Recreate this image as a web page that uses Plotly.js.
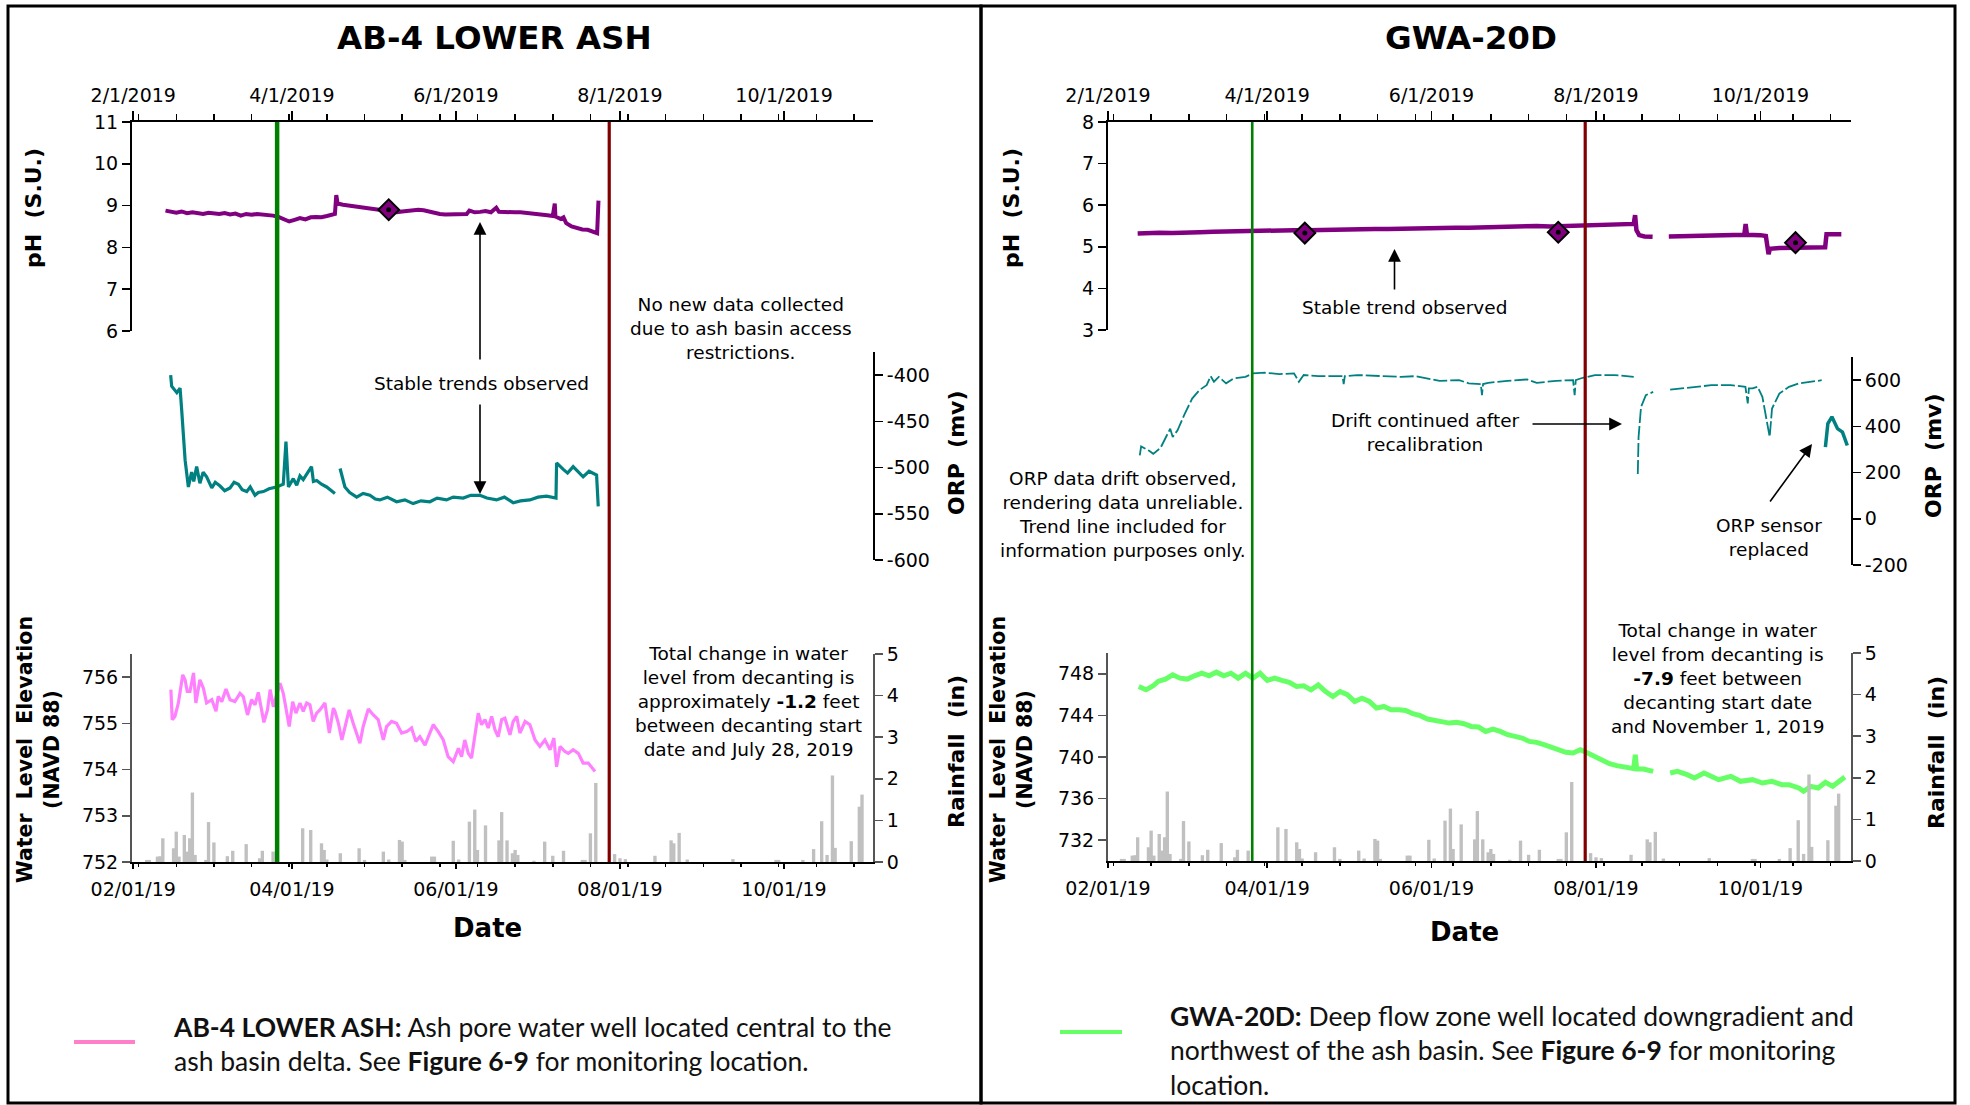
<!DOCTYPE html>
<html><head><meta charset="utf-8">
<script src="https://cdn.plot.ly/plotly-3.0.1.min.js"></script>
<style>html,body{margin:0;padding:0;background:#fff}</style>
</head><body><div id="chart" style="width:1970px;height:1105px"></div>
<script>
// ---------------- DATA ----------------
const panelTitles = ['AB-4 LOWER ASH', 'GWA-20D'];
const decantStart = '2019-03-26 12:00';
const decantEnd = '2019-07-28';

// AB-4 LOWER ASH pH (S.U.)
const ab4PhDates = ['2019-02-13','2019-02-15','2019-02-17','2019-02-19','2019-02-21','2019-02-23','2019-02-25','2019-02-27','2019-03-01','2019-03-03','2019-03-05','2019-03-07','2019-03-09','2019-03-11','2019-03-13','2019-03-15','2019-03-17','2019-03-19','2019-03-21','2019-03-23','2019-03-25','2019-03-27','2019-03-29','2019-03-31','2019-04-02','2019-04-04','2019-04-06','2019-04-08','2019-04-10','2019-04-12','2019-04-14','2019-04-16','2019-04-17','2019-04-17 12:00','2019-04-18','2019-04-20','2019-04-22','2019-04-24','2019-04-26','2019-04-28','2019-04-30','2019-05-02','2019-05-04','2019-05-06','2019-05-08','2019-05-10','2019-05-12','2019-05-14','2019-05-16','2019-05-18','2019-05-20','2019-05-22','2019-05-24','2019-05-26','2019-05-28','2019-05-30','2019-06-01','2019-06-03','2019-06-05','2019-06-06','2019-06-08','2019-06-10','2019-06-12','2019-06-14','2019-06-16','2019-06-17','2019-06-19','2019-06-21','2019-06-23','2019-06-25','2019-06-27','2019-06-29','2019-07-01','2019-07-03','2019-07-05','2019-07-07','2019-07-07 18:00','2019-07-08','2019-07-10','2019-07-11','2019-07-12','2019-07-14','2019-07-16','2019-07-18','2019-07-20','2019-07-22','2019-07-23','2019-07-23 12:00','2019-07-24'];
const ab4PhVals = [8.88,8.85,8.83,8.86,8.82,8.84,8.82,8.80,8.83,8.81,8.80,8.82,8.79,8.81,8.76,8.80,8.78,8.80,8.79,8.78,8.76,8.73,8.68,8.62,8.66,8.70,8.67,8.72,8.73,8.72,8.75,8.78,8.80,9.25,9.05,9.02,9.00,8.99,8.97,8.96,8.94,8.91,8.88,8.87,8.85,8.84,8.86,8.88,8.89,8.90,8.89,8.86,8.82,8.80,8.79,8.79,8.80,8.79,8.80,8.88,8.84,8.85,8.87,8.84,8.95,8.85,8.84,8.85,8.84,8.84,8.83,8.82,8.80,8.78,8.77,8.75,9.05,8.74,8.68,8.72,8.58,8.50,8.46,8.43,8.42,8.37,8.35,8.34,9.12];
const ab4SampleDates = ['2019-05-07'];
const ab4SampleVals = [8.90];

// AB-4 LOWER ASH ORP (mv)
const ab4OrpDates = ['2019-02-14 22:00','2019-02-15 07:00','2019-02-17 05:00','2019-02-18 10:00','2019-02-19','2019-02-20 07:00','2019-02-21 12:00','2019-02-22 17:00','2019-02-23 12:00','2019-02-24 14:00','2019-02-25 19:00','2019-02-27','2019-02-28 07:00','2019-03-02 05:00','2019-03-03 12:00','2019-03-05 07:00','2019-03-07','2019-03-09','2019-03-10 12:00','2019-03-12 02:00','2019-03-13 12:00','2019-03-15 05:00','2019-03-16 12:00','2019-03-18 07:00','2019-03-19 12:00','2019-03-21 10:00','2019-03-23 12:00','2019-03-26 07:00','2019-03-28 19:00','2019-03-29 19:00','2019-03-30 17:00','2019-04-01 12:00','2019-04-02 19:00','2019-04-04','2019-04-05 05:00','2019-04-08 07:00','2019-04-09','2019-04-10 05:00','2019-04-12','2019-04-13 22:00','2019-04-17','2019-04-18','2019-04-18 22:00','2019-04-20 17:00','2019-04-22 12:00','2019-04-25 02:00','2019-04-27 12:00','2019-04-30','2019-05-02','2019-05-03 17:00','2019-05-06 12:00','2019-05-09 22:00','2019-05-13','2019-05-16 02:00','2019-05-19','2019-05-22 07:00','2019-05-25','2019-05-28 12:00','2019-05-31','2019-06-03 17:00','2019-06-06 12:00','2019-06-09 22:00','2019-06-12 12:00','2019-06-16 02:00','2019-06-19','2019-06-22 07:00','2019-06-25','2019-06-28 12:00','2019-07-01 12:00','2019-07-04 17:00','2019-07-08 05:00','2019-07-08 10:00','2019-07-10 22:00','2019-07-12 12:00','2019-07-14 14:00','2019-07-16 12:00','2019-07-18 07:00','2019-07-20 12:00','2019-07-23 07:00','2019-07-23 22:00'];
const ab4OrpVals = [-400,-412,-419,-414,-437,-492,-521,-505,-515,-499,-517,-505,-510,-522,-516,-520,-525,-522,-516,-518,-524,-526,-521,-530,-527,-526,-523,-521,-518,-472,-521,-512,-519,-509,-513,-499,-515,-514,-518,-521,-528,null,-501,-521,-527,-532,-528,-530,-534,-535,-532,-537,-535,-539,-536,-537,-533,-535,-532,-533,-530,-530,-533,-535,-532,-538,-536,-535,-532,-531,-533,-495,-502,-506,-499,-505,-510,-504,-508,-542];

// AB-4 LOWER ASH water level elevation (ft NAVD 88)
const ab4WlDates = ['2019-02-15','2019-02-15 12:00','2019-02-16 12:00','2019-02-17 19:00','2019-02-19 10:00','2019-02-20 07:00','2019-02-21 02:00','2019-02-22 02:00','2019-02-23 10:00','2019-02-24 07:00','2019-02-25 19:00','2019-02-27 02:00','2019-02-28 07:00','2019-03-02 05:00','2019-03-03 19:00','2019-03-04 14:00','2019-03-05 22:00','2019-03-07 12:00','2019-03-09','2019-03-10 19:00','2019-03-12 17:00','2019-03-13 22:00','2019-03-15 12:00','2019-03-17','2019-03-18 07:00','2019-03-19 12:00','2019-03-20 12:00','2019-03-21 14:00','2019-03-22 22:00','2019-03-23 22:00','2019-03-25 02:00','2019-03-26 07:00','2019-03-27 14:00','2019-03-28 19:00','2019-03-29 19:00','2019-03-31','2019-04-01 07:00','2019-04-02 12:00','2019-04-04','2019-04-05 05:00','2019-04-06 12:00','2019-04-07 17:00','2019-04-08 22:00','2019-04-10 05:00','2019-04-11 10:00','2019-04-13 07:00','2019-04-14 22:00','2019-04-16 10:00','2019-04-17','2019-04-18 07:00','2019-04-19 14:00','2019-04-20 17:00','2019-04-22 07:00','2019-04-23 19:00','2019-04-26 07:00','2019-04-27 12:00','2019-04-29 10:00','2019-05-01 07:00','2019-05-03 02:00','2019-05-05','2019-05-06 05:00','2019-05-08 02:00','2019-05-09 22:00','2019-05-11 19:00','2019-05-13 17:00','2019-05-15 12:00','2019-05-17 02:00','2019-05-18 14:00','2019-05-20 12:00','2019-05-22 07:00','2019-05-23 14:00','2019-05-25 10:00','2019-05-27 07:00','2019-05-29 02:00','2019-05-31','2019-06-01 22:00','2019-06-03 02:00','2019-06-04 07:00','2019-06-05 14:00','2019-06-06 19:00','2019-06-08 02:00','2019-06-09 07:00','2019-06-10 12:00','2019-06-11 19:00','2019-06-13','2019-06-14 07:00','2019-06-15 12:00','2019-06-16 17:00','2019-06-18','2019-06-19 05:00','2019-06-21 02:00','2019-06-22 07:00','2019-06-23 14:00','2019-06-24 19:00','2019-06-26 17:00','2019-06-28 12:00','2019-06-30 10:00','2019-07-02 05:00','2019-07-04 02:00','2019-07-06','2019-07-07 10:00','2019-07-08 10:00','2019-07-09 17:00','2019-07-11 12:00','2019-07-12 19:00','2019-07-14 14:00','2019-07-16 12:00','2019-07-18 07:00','2019-07-20 05:00','2019-07-21 10:00','2019-07-22 17:00'];
const ab4WlVals = [755.73,755.08,755.15,755.44,756.05,755.94,755.69,755.69,756.09,755.44,755.94,755.76,755.44,755.51,755.26,755.58,755.47,755.74,755.51,755.47,755.65,755.58,755.18,755.51,755.40,755.67,755.36,755.02,755.29,755.73,755.36,755.58,755.87,755.65,755.33,754.93,755.47,755.22,755.44,755.26,755.44,755.40,755.04,755.22,755.29,755.44,754.79,755.33,755.26,755.00,754.64,754.93,755.29,755.00,754.57,754.93,755.31,755.18,755.08,754.64,754.93,755.04,755.00,754.79,754.82,754.90,754.61,754.71,754.53,754.79,754.97,754.82,754.64,754.28,754.17,754.46,754.28,754.64,754.35,754.25,754.71,755.22,754.97,755.08,754.90,755.15,754.86,754.71,755.08,755.11,754.75,755.04,755.15,754.79,755.04,754.97,754.64,754.50,754.64,754.43,754.68,754.06,754.50,754.39,754.35,754.43,754.35,754.14,754.14,754.06,753.96];

// Daily rainfall (in)
const rainDates = ['2019-02-06','2019-02-07','2019-02-10','2019-02-11','2019-02-12','2019-02-16','2019-02-17','2019-02-18','2019-02-20','2019-02-21','2019-02-22','2019-02-23','2019-02-24','2019-02-28','2019-03-01','2019-03-03','2019-03-08','2019-03-10','2019-03-15','2019-03-20','2019-03-21','2019-03-25','2019-04-05','2019-04-08','2019-04-12','2019-04-13','2019-04-14','2019-04-19','2019-04-26','2019-04-28','2019-05-05','2019-05-07','2019-05-11','2019-05-12','2019-05-13','2019-05-23','2019-05-24','2019-05-31','2019-06-02','2019-06-06','2019-06-08','2019-06-09','2019-06-12','2019-06-17','2019-06-18','2019-06-20','2019-06-22','2019-06-23','2019-06-24','2019-06-30','2019-07-04','2019-07-07','2019-07-11','2019-07-18','2019-07-19','2019-07-21','2019-07-23','2019-07-30','2019-08-01','2019-08-03','2019-08-14','2019-08-20','2019-08-21','2019-08-23','2019-08-26','2019-09-12','2019-09-28','2019-09-29','2019-10-08','2019-10-12','2019-10-15','2019-10-17','2019-10-19','2019-10-20','2019-10-26','2019-10-29','2019-10-30'];
const rainVals = [0.05,0.05,0.13,0.14,0.57,0.33,0.73,0.13,0.65,0.25,0.57,1.67,0.17,0.05,0.96,0.47,0.14,0.27,0.43,0.09,0.27,0.25,0.81,0.77,0.45,0.29,0.06,0.21,0.33,0.05,0.25,0.06,0.53,0.49,0.05,0.13,0.13,0.51,0.06,0.97,1.26,0.29,0.88,0.52,1.20,0.52,0.21,0.29,0.17,0.03,0.49,0.15,0.27,0.05,0.05,0.69,1.90,0.19,0.09,0.07,0.15,0.52,0.45,0.70,0.06,0.07,0.05,0.05,0.05,0.31,0.98,0.17,2.08,0.34,0.50,1.33,1.62];

// GWA-20D pH (S.U.)
const gwaPhDates = ['2019-02-12','2019-02-15','2019-02-20','2019-02-25','2019-03-02','2019-03-07','2019-03-12','2019-03-17','2019-03-22','2019-03-27','2019-04-01','2019-04-06','2019-04-11','2019-04-16','2019-04-21','2019-04-26','2019-05-01','2019-05-06','2019-05-11','2019-05-16','2019-05-21','2019-05-26','2019-05-31','2019-06-05','2019-06-10','2019-06-15','2019-06-20','2019-06-25','2019-06-30','2019-07-05','2019-07-10','2019-07-15','2019-07-20','2019-07-25','2019-07-30','2019-08-04','2019-08-09','2019-08-14','2019-08-15','2019-08-15 12:00','2019-08-16','2019-08-17','2019-08-19','2019-08-22','2019-08-25','2019-08-28','2019-09-02','2019-09-07','2019-09-12','2019-09-17','2019-09-22','2019-09-25','2019-09-25 12:00','2019-09-26','2019-10-01','2019-10-03','2019-10-04','2019-10-04 12:00','2019-10-08','2019-10-13','2019-10-18','2019-10-23','2019-10-25','2019-10-25 12:00','2019-10-28','2019-10-31'];
const gwaPhVals = [5.32,5.33,5.34,5.33,5.35,5.35,5.36,5.37,5.38,5.38,5.39,5.39,5.40,5.40,5.41,5.41,5.42,5.42,5.43,5.43,5.44,5.44,5.45,5.45,5.46,5.46,5.47,5.47,5.48,5.48,5.50,5.49,5.50,5.51,5.51,5.52,5.52,5.53,5.55,5.76,5.40,5.28,5.25,5.24,null,5.25,5.26,5.26,5.27,5.28,5.28,5.29,5.55,5.29,5.28,5.26,4.82,4.95,4.97,4.97,4.98,4.98,4.99,5.30,5.31,5.30];
const gwaSampleDates = ['2019-04-15','2019-07-18','2019-10-14'];
const gwaSampleVals = [5.33,5.35,5.10];

// GWA-20D ORP (mv), original sensor
const gwaOrpDates = ['2019-02-12 19:00','2019-02-13 07:00','2019-02-16','2019-02-17 19:00','2019-02-20 12:00','2019-02-23 05:00','2019-02-24 02:00','2019-02-25','2019-02-26 19:00','2019-03-01 12:00','2019-03-04 05:00','2019-03-06 22:00','2019-03-09 14:00','2019-03-11 02:00','2019-03-12 07:00','2019-03-14 02:00','2019-03-16 19:00','2019-03-19 12:00','2019-03-24','2019-03-26 17:00','2019-03-31 05:00','2019-04-05 14:00','2019-04-11','2019-04-12 19:00','2019-04-14 14:00','2019-04-20','2019-04-29','2019-04-29 10:00','2019-04-29 20:00','2019-05-04 10:00','2019-05-11 14:00','2019-05-20 14:00','2019-05-26','2019-05-31 10:00','2019-06-04','2019-06-11 05:00','2019-06-14 19:00','2019-06-19 07:00','2019-06-19 17:00','2019-06-20 03:00','2019-06-22','2019-06-29 05:00','2019-07-06 10:00','2019-07-10','2019-07-17 05:00','2019-07-23 12:00','2019-07-24 02:00','2019-07-24 12:00','2019-07-26 05:00','2019-07-31 14:00','2019-08-07 19:00','2019-08-15','2019-08-15 12:00','2019-08-16 12:00','2019-08-16 19:00','2019-08-17 17:00','2019-08-19 12:00','2019-08-22 05:00','2019-08-25','2019-08-28 12:00','2019-09-05 14:00','2019-09-12 19:00','2019-09-20','2019-09-25 10:00','2019-09-26 07:00','2019-09-26 17:00','2019-09-28 02:00','2019-09-29 22:00','2019-10-01 17:00','2019-10-04 10:00','2019-10-05 07:00','2019-10-08','2019-10-11 14:00','2019-10-15 05:00','2019-10-22 10:00','2019-10-23 17:00'];
const gwaOrpVals = [274,313,296,281,307,375,390,354,383,455,520,557,578,617,593,614,586,607,614,629,632,626,629,593,622,617,617,583,617,622,617,614,617,603,597,600,586,583,535,583,588,597,603,588,597,600,535,600,607,622,622,614,null,194,354,484,535,549,null,559,568,578,578,571,499,564,564,571,528,354,477,542,571,586,597,600];
// GWA-20D ORP (mv), after sensor replacement
const gwaOrpNewDates = ['2019-10-25 02:00','2019-10-26','2019-10-27 12:00','2019-10-28 17:00','2019-10-29 14:00','2019-10-31 10:00','2019-11-02 05:00'];
const gwaOrpNewVals = [310,412,441,412,390,375,317];

// GWA-20D water level elevation (ft NAVD 88)
const gwaWlDates = ['2019-02-12 10:00','2019-02-15 02:00','2019-02-17 19:00','2019-02-19 14:00','2019-02-22 07:00','2019-02-25','2019-02-27 17:00','2019-03-02 10:00','2019-03-05 02:00','2019-03-07 19:00','2019-03-10 12:00','2019-03-13 05:00','2019-03-15 22:00','2019-03-18 14:00','2019-03-21 07:00','2019-03-24','2019-03-26 17:00','2019-03-29 10:00','2019-04-01 02:00','2019-04-03 19:00','2019-04-06 12:00','2019-04-09 05:00','2019-04-11 22:00','2019-04-14 14:00','2019-04-17 07:00','2019-04-20','2019-04-22 17:00','2019-04-25 10:00','2019-04-28 02:00','2019-04-30 19:00','2019-05-03 12:00','2019-05-06 05:00','2019-05-08 22:00','2019-05-11 14:00','2019-05-14 07:00','2019-05-17','2019-05-19 17:00','2019-05-22 10:00','2019-05-25 02:00','2019-05-27 19:00','2019-05-30 12:00','2019-06-02 05:00','2019-06-04 22:00','2019-06-07 14:00','2019-06-10 07:00','2019-06-13','2019-06-15 17:00','2019-06-18 10:00','2019-06-21 02:00','2019-06-23 19:00','2019-06-26 12:00','2019-06-29 05:00','2019-07-01 22:00','2019-07-04 14:00','2019-07-07 07:00','2019-07-10','2019-07-12 17:00','2019-07-15 10:00','2019-07-18 02:00','2019-07-20 19:00','2019-07-23 12:00','2019-07-26 05:00','2019-07-28 22:00','2019-07-31 14:00','2019-08-03 07:00','2019-08-06','2019-08-08 17:00','2019-08-11 10:00','2019-08-14 02:00','2019-08-15','2019-08-15 14:00','2019-08-16 02:00','2019-08-18 14:00','2019-08-22 05:00','2019-08-25','2019-08-28 12:00','2019-08-31 05:00','2019-09-03 19:00','2019-09-06 12:00','2019-09-10 02:00','2019-09-12 19:00','2019-09-15 12:00','2019-09-20','2019-09-23 14:00','2019-09-28 02:00','2019-10-01 17:00','2019-10-05 07:00','2019-10-08 22:00','2019-10-11 14:00','2019-10-15 05:00','2019-10-17','2019-10-19 17:00','2019-10-22 10:00','2019-10-25 02:00','2019-10-27 19:00','2019-10-30 12:00','2019-11-01 07:00'];
const gwaWlVals = [746.78,746.46,746.85,747.26,747.49,747.90,747.58,747.49,747.81,748.06,747.81,748.16,747.81,748.06,747.58,748.06,747.58,748.06,747.36,747.58,747.36,747.17,746.78,746.85,746.46,746.94,746.30,745.82,746.30,746.00,745.34,745.66,745.34,744.70,744.86,744.54,744.54,744.48,744.16,743.97,743.65,743.52,743.33,743.26,743.33,743.20,742.94,742.88,742.46,742.69,742.46,742.14,741.98,741.82,741.50,741.41,741.18,740.96,740.70,740.45,740.38,740.70,740.38,740.06,739.74,739.36,739.17,739.04,738.94,738.88,740.22,738.85,738.85,738.62,null,738.46,738.62,738.30,737.98,738.46,738.14,737.82,738.14,737.66,737.82,737.50,737.66,737.34,737.34,737.02,736.70,737.18,737.02,737.57,737.18,737.66,738.08];

// Tick values / labels
const topTickFormat = '%-m/%-d/%Y';
const bottomTickFormat = '%m/%d/%y';
const ab4OrpTicks = [-600, -550, -500, -450, -400];
const ab4OrpTickText = ['-600', '-550', '-500', '-450', '-400'];
const gwaOrpTicks = [-200, 0, 200, 400, 600];
const gwaOrpTickText = ['-200', '0', '200', '400', '600'];

// ---------------- LAYOUT HELPERS ----------------
const W = 1970, H = 1105;
const fx = v => v / W, fy = v => 1 - v / H;
const FONT = 'DejaVu Sans, Verdana, sans-serif';
const DAY = 86400000;

function dateAxis(x0, x1, anchor, side, fmt, range) {
  return {
    type: 'date', domain: [fx(x0), fx(x1)], anchor: anchor, side: side, range: range,
    tickformat: fmt, tick0: '2019-02-01', dtick: 'M2',
    ticks: 'outside', ticklen: side === 'top' ? 9 : 5, tickwidth: 1.5, tickcolor: '#000',
    showline: true, linecolor: '#000', linewidth: 2, mirror: false,
    showgrid: false, zeroline: false, fixedrange: true,
    ticklabelstandoff: side === 'top' ? 1 : 4,
    tickfont: {family: FONT, size: 19, color: '#000'},
    minor: {dtick: 14 * DAY, tick0: '2019-02-03', ticks: 'outside', ticklen: side === 'top' ? 6 : 3, tickwidth: 1.5, tickcolor: '#000', showgrid: false}
  };
}
function valAxis(y0, y1, anchor, side, range, dtick, tick0, overlay, lineColor) {
  const a = {
    domain: [fy(y1), fy(y0)], anchor: anchor, side: side, range: range,
    dtick: dtick, tick0: tick0, ticks: 'outside', ticklen: 8, tickwidth: 1.5, tickcolor: lineColor || '#000',
    showline: true, linecolor: lineColor || '#000', linewidth: 2,
    showgrid: false, zeroline: false, fixedrange: true,
    tickfont: {family: FONT, size: 19, color: '#000'}
  };
  if (overlay) { a.overlaying = overlay; delete a.domain; }
  return a;
}

const leftRange = ['2019-01-31 13:00', '2019-11-03 02:00'];
const rightRange = ['2019-02-01', '2019-11-03 14:00'];

const yOrpL = valAxis(352, 560, 'x', 'right', [-600, -375], 50, -600);
yOrpL.tickmode = 'array'; yOrpL.tickvals = ab4OrpTicks; yOrpL.ticktext = ab4OrpTickText;
const yOrpR = valAxis(357, 565, 'x3', 'right', [-200, 700], 200, -200);
yOrpR.tickmode = 'array'; yOrpR.tickvals = gwaOrpTicks; yOrpR.ticktext = gwaOrpTickText;

const layout = {
  width: W, height: H, margin: {l: 0, r: 0, t: 0, b: 0},
  paper_bgcolor: '#fff', plot_bgcolor: 'rgba(0,0,0,0)', showlegend: false,
  font: {family: FONT, size: 19, color: '#000'},
  xaxis: dateAxis(132, 873, 'y', 'top', topTickFormat, leftRange),
  yaxis: valAxis(122, 331, 'x', 'left', [6, 11], 1, 6),
  yaxis2: yOrpL,
  xaxis2: dateAxis(132, 873, 'y3', 'bottom', bottomTickFormat, leftRange),
  yaxis3: valAxis(654, 862, 'x2', 'left', [752, 756.5], 1, 752, null, '#555'),
  yaxis4: valAxis(654, 862, 'x2', 'right', [0, 5], 1, 0, 'y3', '#555'),
  xaxis3: dateAxis(1108, 1851, 'y5', 'top', topTickFormat, rightRange),
  yaxis5: valAxis(122, 330, 'x3', 'left', [3, 8], 1, 3),
  yaxis6: yOrpR,
  xaxis4: dateAxis(1108, 1851, 'y7', 'bottom', bottomTickFormat, rightRange),
  yaxis7: valAxis(653, 861, 'x4', 'left', [730, 750], 4, 732, null, '#555'),
  yaxis8: valAxis(653, 861, 'x4', 'right', [0, 5], 1, 0, 'y7', '#555'),
  shapes: [], annotations: []
};

// panel borders
layout.shapes.push({type: 'rect', xref: 'paper', yref: 'paper', x0: fx(8), x1: fx(981), y0: fy(1103), y1: fy(6), line: {color: '#000', width: 3}});
layout.shapes.push({type: 'rect', xref: 'paper', yref: 'paper', x0: fx(981), x1: fx(1955), y0: fy(1103), y1: fy(6), line: {color: '#000', width: 3}});
// decanting start / end lines
layout.shapes.push({type: 'line', xref: 'x', yref: 'paper', x0: decantStart, x1: decantStart, y0: fy(862), y1: fy(122), line: {color: '#008000', width: 4.5}});
layout.shapes.push({type: 'line', xref: 'x', yref: 'paper', x0: decantEnd, x1: decantEnd, y0: fy(862), y1: fy(122), line: {color: '#800000', width: 3.2}});
layout.shapes.push({type: 'line', xref: 'x3', yref: 'paper', x0: decantStart, x1: decantStart, y0: fy(861), y1: fy(122), line: {color: '#008000', width: 2.6}});
layout.shapes.push({type: 'line', xref: 'x3', yref: 'paper', x0: decantEnd, x1: decantEnd, y0: fy(861), y1: fy(122), line: {color: '#800000', width: 3.2}});
// legend swatches
layout.shapes.push({type: 'line', xref: 'paper', yref: 'paper', x0: fx(74), x1: fx(135), y0: fy(1042), y1: fy(1042), line: {color: '#FF80C8', width: 4}});
layout.shapes.push({type: 'line', xref: 'paper', yref: 'paper', x0: fx(1060), x1: fx(1122), y0: fy(1032), y1: fy(1032), line: {color: '#66FF66', width: 4}});

function txt(x, y, text, size, opts) {
  layout.annotations.push(Object.assign({
    xref: 'paper', yref: 'paper', x: fx(x), y: fy(y), text: text, showarrow: false,
    xanchor: 'center', yanchor: 'middle', align: 'center',
    font: {family: FONT, size: size, color: '#000'}
  }, opts || {}));
}
function arrow(hx, hy, tx, ty) {
  layout.annotations.push({
    xref: 'paper', yref: 'paper', x: fx(hx), y: fy(hy), ax: tx - hx, ay: ty - hy, text: '',
    showarrow: true, arrowhead: 2, arrowsize: 1.6, arrowwidth: 1.6, arrowcolor: '#000', standoff: 0, startstandoff: 0
  });
}

// panel titles
txt(494, 38, '<b>' + panelTitles[0] + '</b>', 32.5);
txt(1471, 38, '<b>' + panelTitles[1] + '</b>', 32.5);
// axis titles, left panel
txt(33, 208, '<b>pH  (S.U.)</b>', 22, {textangle: -90});
txt(956, 453, '<b>ORP  (mv)</b>', 22, {textangle: -90});
txt(38, 750, '<b>Water  Level  Elevation<br>(NAVD 88)</b>', 20.5, {textangle: -90});
txt(956, 752, '<b>Rainfall  (in)</b>', 22, {textangle: -90});
txt(487, 928, '<b>Date</b>', 26);
// axis titles, right panel
txt(1011, 208, '<b>pH  (S.U.)</b>', 22, {textangle: -90});
txt(1933, 456, '<b>ORP  (mv)</b>', 22, {textangle: -90});
txt(1011, 750, '<b>Water  Level  Elevation<br>(NAVD 88)</b>', 20.5, {textangle: -90});
txt(1936, 753, '<b>Rainfall  (in)</b>', 22, {textangle: -90});
txt(1464, 932, '<b>Date</b>', 26);

// notes, left panel
txt(741, 328, 'No new data collected<br>due to ash basin access<br>restrictions.', 18.5);
txt(481, 383, 'Stable trends observed', 18.5);
arrow(480, 222, 480, 361);
arrow(480, 494, 480, 403);
txt(748, 701, 'Total change in water<br>level from decanting is<br>approximately <b>-1.2</b> feet<br>between decanting start<br>date and July 28, 2019', 18.5);
// notes, right panel
txt(1404, 307, 'Stable trend observed', 18.5);
arrow(1394.5, 249, 1394.5, 291);
txt(1123, 514, 'ORP data drift observed,<br>rendering data unreliable.<br>Trend line included for<br>information purposes only.', 18.5);
txt(1425, 433, 'Drift continued after<br>recalibration', 18.5);
arrow(1622, 424, 1531, 424);
txt(1769, 537, 'ORP sensor<br>replaced', 18.5);
arrow(1812, 444, 1769, 503);
txt(1717, 678, 'Total change in water<br>level from decanting is<br><b>-7.9</b> feet between<br>decanting start date<br>and November 1, 2019', 18.5);

// legend texts
const LFONT = 'Lato, "Open Sans", sans-serif';
txt(171, 1044, '<b>AB-4 LOWER ASH:</b> Ash pore water well located central to the<br>ash basin delta. See <b>Figure 6-9</b> for monitoring location.', 26.5, {xanchor: 'left', align: 'left', font: {family: LFONT, size: 26.5, color: '#111'}});
txt(1168, 1050, '<b>GWA-20D:</b> Deep flow zone well located downgradient and<br>northwest of the ash basin. See <b>Figure 6-9</b> for monitoring<br>location.', 26.5, {xanchor: 'left', align: 'left', font: {family: LFONT, size: 26.5, color: '#111'}});

// ---------------- TRACES ----------------
const diamond = {symbol: 'diamond', size: 16, color: '#800080', line: {color: '#000', width: 2}};
const dot = {symbol: 'circle', size: 5, color: '#000'};
const barStyle = {color: '#C0C0C0', line: {width: 0}};
const traces = [
  {type: 'bar', x: rainDates, y: rainVals, xaxis: 'x2', yaxis: 'y4', width: 1.25 * DAY, marker: barStyle},
  {type: 'bar', x: rainDates, y: rainVals, xaxis: 'x4', yaxis: 'y8', width: 1.25 * DAY, marker: barStyle},
  {type: 'scatter', mode: 'lines', x: ab4WlDates, y: ab4WlVals, xaxis: 'x2', yaxis: 'y3', line: {color: '#FF80FF', width: 3.2}},
  {type: 'scatter', mode: 'lines', x: gwaWlDates, y: gwaWlVals, xaxis: 'x4', yaxis: 'y7', line: {color: '#66FF66', width: 5}},
  {type: 'scatter', mode: 'lines', x: ab4PhDates, y: ab4PhVals, xaxis: 'x', yaxis: 'y', line: {color: '#800080', width: 4}},
  {type: 'scatter', mode: 'markers', x: ab4SampleDates, y: ab4SampleVals, xaxis: 'x', yaxis: 'y', marker: diamond},
  {type: 'scatter', mode: 'markers', x: ab4SampleDates, y: ab4SampleVals, xaxis: 'x', yaxis: 'y', marker: dot},
  {type: 'scatter', mode: 'lines', x: ab4OrpDates, y: ab4OrpVals, xaxis: 'x', yaxis: 'y2', line: {color: '#008080', width: 3.2}},
  {type: 'scatter', mode: 'lines', x: gwaPhDates, y: gwaPhVals, xaxis: 'x3', yaxis: 'y5', line: {color: '#800080', width: 4.5}},
  {type: 'scatter', mode: 'markers', x: gwaSampleDates, y: gwaSampleVals, xaxis: 'x3', yaxis: 'y5', marker: diamond},
  {type: 'scatter', mode: 'markers', x: gwaSampleDates, y: gwaSampleVals, xaxis: 'x3', yaxis: 'y5', marker: dot},
  {type: 'scatter', mode: 'lines', x: gwaOrpDates, y: gwaOrpVals, xaxis: 'x3', yaxis: 'y6', line: {color: '#008080', width: 1.8, dash: '14px,3px'}},
  {type: 'scatter', mode: 'lines', x: gwaOrpNewDates, y: gwaOrpNewVals, xaxis: 'x3', yaxis: 'y6', line: {color: '#008080', width: 3.5}}
];

Plotly.newPlot('chart', traces, layout, {displayModeBar: false, staticPlot: true});
</script>
</body></html>
